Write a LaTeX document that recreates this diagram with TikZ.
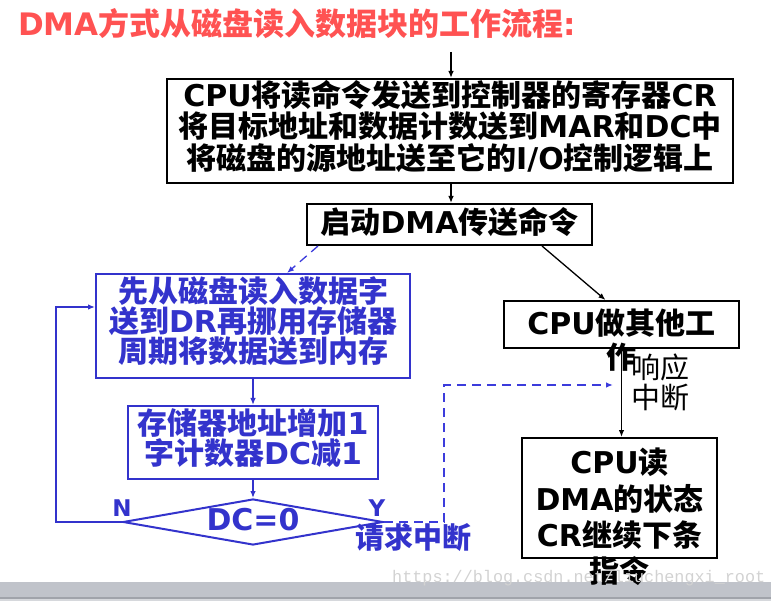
\documentclass[tikz,border=0pt]{standalone}
\usepackage{fontspec}
\newfontfamily\cjk{Noto Sans CJK SC}
\newfontfamily\lat{DejaVu Sans}
\newfontfamily\wm{Liberation Mono}
\usetikzlibrary{arrows.meta,shapes.geometric,calc}
\definecolor{ttl}{RGB}{255,82,82}
\definecolor{bl}{RGB}{51,51,204}
\definecolor{dbl}{RGB}{60,60,220}
\definecolor{barc}{RGB}{192,195,202}
\definecolor{barl}{RGB}{160,163,170}
\definecolor{barb}{RGB}{214,216,220}
\definecolor{wmc}{RGB}{210,210,210}
\newcommand\La[1]{{\lat #1}}
\begin{document}
\begin{tikzpicture}[x=1pt,y=-1pt,
  txt/.style={inner sep=0pt,align=center,font=\cjk\bfseries\fontsize{30}{31.5}\selectfont},
  box/.style={draw,line width=2pt,inner sep=0pt},
  bbox/.style={box,draw=bl},
  btxt/.style={txt,text=bl,font=\cjk\bfseries\fontsize{30}{30}\selectfont},
  arr/.style={-{Latex[length=7pt,width=5.5pt]},line width=1.3pt},
  darr/.style={arr,dbl,dash pattern=on 9pt off 6pt}]
\useasboundingbox (0,0) rectangle (771,601);
% bottom bar
\fill[barc] (0,582) rectangle (771,597);
\fill[barl] (0,597) rectangle (771,599);
\fill[barb] (0,599) rectangle (771,601);
% title
\node[txt,anchor=west,text=ttl,font=\cjk\bfseries\fontsize{31}{32}\selectfont] (title) at (18,24) {\La{DMA}方式从磁盘读入数据块的工作流程\La{:}};
% black part
\coordinate (t0) at (451,52);
\node[box,minimum width=566,minimum height=104] (b1) at (450,131) {};
\node[txt] (b1txt) at ($(b1.center)+(0,-5)$) {\La{CPU}将读命令发送到控制器的寄存器\La{CR}\\将目标地址和数据计数送到\La{MAR}和\La{DC}中\\将磁盘的源地址送至它的\La{I/O}控制逻辑上};
\node[box,minimum width=285,minimum height=41] (b2) at (449.5,224.5) {};
\node[txt] (b2txt) at ($(b2.center)+(0,-3)$) {启动\La{DMA}传送命令};
\node[box,minimum width=235,minimum height=47] (work) at (621.5,324.5) {};
\node[txt,anchor=north,font=\cjk\bfseries\fontsize{30}{34}\selectfont] (worktxt) at (621.5,309) {\La{CPU}做其他工\\作};
\node[box,minimum width=195,minimum height=120] (rd) at (619.5,498) {};
\node[txt,anchor=north,font=\cjk\bfseries\fontsize{30}{36.3}\selectfont] (rdtxt) at (619.5,448) {\La{CPU}读\\\La{DMA}的状态\\\La{CR}继续下条\\指令};
\node[txt,font=\cjk\fontsize{29}{30}\selectfont] (resp) at (660,382) {响应\\中断};
\draw[arr] (t0) -- (t0 |- b1.north);
\draw[arr] (b1.south -| t0) -- (t0 |- b2.north);
\draw[arr] ($(b2.south)+(92.5,0)$) -- ($(work.north)+(-16,0)$);
\draw[arr] (work.south) -- (work.south |- rd.north);
% blue part
\node[bbox,minimum width=314,minimum height=104] (bb1) at (253,326) {};
\node[btxt] (bb1txt) at ($(bb1.center)+(0,-5)$) {先从磁盘读入数据字\\送到\La{DR}再挪用存储器\\周期将数据送到内存};
\node[bbox,minimum width=250,minimum height=73] (bb2) at (253,442.5) {};
\node[btxt] (bb2txt) at ($(bb2.center)+(0,-4.5)$) {存储器地址增加\La{1}\\字计数器\La{DC}减\La{1}};
\node[draw=bl,line width=2pt,diamond,aspect=5.65,minimum width=260,minimum height=46,inner sep=0pt] (dia) at (253,522) {};
\node[txt,text=bl,font=\lat\bfseries\fontsize{30}{30}\selectfont] (dctxt) at (253,520) {DC=0};
\node[txt,text=bl,font=\lat\bfseries\fontsize{23}{24}\selectfont] (nlab) at (122,508) {N};
\node[txt,text=bl,font=\lat\bfseries\fontsize{23}{24}\selectfont] (ylab) at (377,508) {Y};
\node[txt,text=bl,font=\cjk\bfseries\fontsize{29}{30}\selectfont] (req) at (413,538) {请求中断};
\draw[darr] ($(b2.south west)+(12,0)$) -- ($(bb1.north)+(34,0)$);
\draw[arr,bl] (bb1.south) -- (bb2.north);
\draw[arr,bl] (bb2.south) -- (dia.north);
\draw[arr,bl] (dia.west) -- ++(-66,0) |- ($(bb1.west)+(0,-19)$);
\coordinate (ri) at (613,385);
\draw[darr] (dia.east) -| (444,385) -- (ri);
% watermark
\node[inner sep=0pt,anchor=west,text=wmc,font=\wm\fontsize{16.8}{17}\selectfont] (wmk) at (392,578) {https://blog.csdn.net/liuchengxi\_root};
\end{tikzpicture}
\end{document}
